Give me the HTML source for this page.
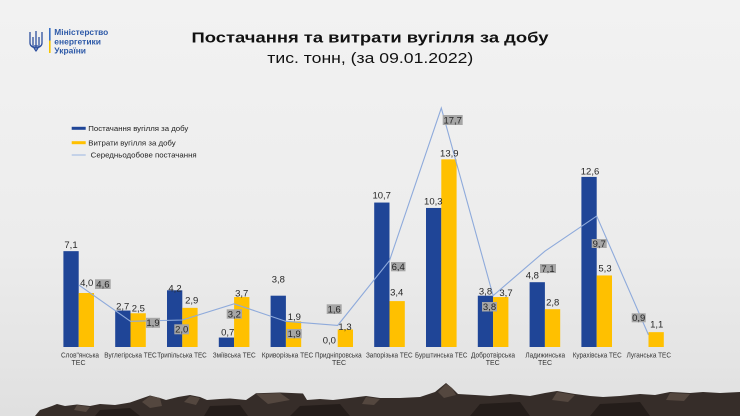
<!DOCTYPE html>
<html><head><meta charset="utf-8">
<style>html,body{margin:0;padding:0;width:740px;height:416px;overflow:hidden;background:#eee}</style>
</head><body>
<svg width="740" height="416" viewBox="0 0 740 416" xmlns="http://www.w3.org/2000/svg" font-family="'Liberation Sans', Arial, sans-serif">
<defs>
<linearGradient id="bg" x1="0" y1="0" x2="0" y2="1">
<stop offset="0" stop-color="#f2f2f2"/><stop offset="0.6" stop-color="#ececec"/><stop offset="1" stop-color="#e0e0e0"/>
</linearGradient>
</defs>
<rect width="740" height="416" fill="url(#bg)"/>

<!-- Logo -->
<g fill="none" stroke="#2d4f9e" stroke-width="1.3" stroke-linejoin="round">
<path d="M36 31 L36 48"/>
<path d="M30 32 L30 43 Q30 47 36 48 Q42 47 42 43 L42 32"/>
<path d="M33 37 L33 45 M39 37 L39 45"/>
<path d="M31 46 L41 46 M34 48 L36 51 L38 48"/>
</g>
<rect x="49" y="28" width="1.6" height="12.5" fill="#3a6fc4"/>
<rect x="49" y="40.5" width="1.6" height="12.5" fill="#f5c400"/>
<g fill="#2e5aa8" font-weight="bold" font-size="8.5">
<text x="54.3" y="35" textLength="54" lengthAdjust="spacingAndGlyphs">Міністерство</text>
<text x="54.3" y="44.3" textLength="46.7" lengthAdjust="spacingAndGlyphs">енергетики</text>
<text x="54.3" y="53.3" textLength="31.7" lengthAdjust="spacingAndGlyphs">України</text>
</g>

<!-- Title -->
<text x="370" y="42.3" text-anchor="middle" font-size="15" font-weight="bold" fill="#111" textLength="357" lengthAdjust="spacingAndGlyphs">Постачання та витрати вугілля за добу</text>
<text x="370.3" y="63" text-anchor="middle" font-size="15" fill="#111" textLength="206" lengthAdjust="spacingAndGlyphs">тис. тонн, (за 09.01.2022)</text>

<!-- Legend -->
<rect x="71.7" y="126.8" width="14" height="3" fill="#1f4597"/>
<text x="88.3" y="130.8" font-size="7.5" fill="#222" textLength="100" lengthAdjust="spacingAndGlyphs">Постачання вугілля за добу</text>
<rect x="71.7" y="141.2" width="14" height="3" fill="#ffc000"/>
<text x="88.3" y="145.3" font-size="7.5" fill="#222" textLength="87.4" lengthAdjust="spacingAndGlyphs">Витрати вугілля за добу</text>
<line x1="71.7" y1="155" x2="85.7" y2="155" stroke="#a9bfe3" stroke-width="1.2"/>
<text x="90.7" y="157.7" font-size="7.5" fill="#222" textLength="106" lengthAdjust="spacingAndGlyphs">Середньодобове постачання</text>

<!-- Blue bars -->
<g fill="#1f4597">
<rect x="63.4" y="251.15" width="15.3" height="95.85"/>
<rect x="115.2" y="310.55" width="15.3" height="36.45"/>
<rect x="167" y="290.3" width="15.3" height="56.7"/>
<rect x="218.8" y="337.55" width="15.3" height="9.45"/>
<rect x="270.6" y="295.7" width="15.3" height="51.3"/>
<rect x="374.2" y="202.55" width="15.3" height="144.45"/>
<rect x="426" y="207.95" width="15.3" height="139.05"/>
<rect x="477.8" y="295.7" width="15.3" height="51.3"/>
<rect x="529.6" y="282.2" width="15.3" height="64.8"/>
<rect x="581.4" y="176.9" width="15.3" height="170.1"/>
</g>
<!-- Yellow bars -->
<g fill="#ffc000">
<rect x="78.7" y="293" width="15.3" height="54"/>
<rect x="130.5" y="313.25" width="15.3" height="33.75"/>
<rect x="182.3" y="307.85" width="15.3" height="39.15"/>
<rect x="234.1" y="297.05" width="15.3" height="49.95"/>
<rect x="285.9" y="321.35" width="15.3" height="25.65"/>
<rect x="337.7" y="329.45" width="15.3" height="17.55"/>
<rect x="389.5" y="301.1" width="15.3" height="45.9"/>
<rect x="441.3" y="159.35" width="15.3" height="187.65"/>
<rect x="493.1" y="297.05" width="15.3" height="49.95"/>
<rect x="544.9" y="309.2" width="15.3" height="37.8"/>
<rect x="596.7" y="275.45" width="15.3" height="71.55"/>
<rect x="648.5" y="332.15" width="15.3" height="14.85"/>
</g>

<!-- Average line -->
<polyline fill="none" stroke="#8eaadb" stroke-width="1.1" points="78.7,284.9 130.5,321.35 182.3,320 234.1,303.8 285.9,321.35 337.7,325.4 389.5,260.6 441.3,108.05 493.1,295.7 544.9,251.15 596.7,216.05 648.5,334.85"/>

<!-- Data labels -->
<g font-size="9.5" fill="#262626" text-anchor="middle">
<text x="71" y="248">7,1</text>
<text x="122.7" y="309.4">2,7</text>
<text x="175" y="291.7">4,2</text>
<text x="227.7" y="335.4">0,7</text>
<text x="278.3" y="282.7">3,8</text>
<text x="329.3" y="343.4">0,0</text>
<text x="381.7" y="198.4">10,7</text>
<text x="433.3" y="204.4">10,3</text>
<text x="485.5" y="294.4">3,8</text>
<text x="532.3" y="278.4">4,8</text>
<text x="590" y="174.4">12,6</text>

<text x="86.7" y="286.1">4,0</text>
<text x="138.3" y="311.7">2,5</text>
<text x="191.7" y="303.4">2,9</text>
<text x="241.7" y="296.7">3,7</text>
<text x="294.3" y="320.1">1,9</text>
<text x="345" y="330.1">1,3</text>
<text x="396.7" y="295.7">3,4</text>
<text x="449.3" y="156.7">13,9</text>
<text x="506" y="296.1">3,7</text>
<text x="552.7" y="305.7">2,8</text>
<text x="605" y="271.7">5,3</text>
<text x="656.7" y="327.7">1,1</text>
</g>

<!-- Average labels (gray boxes) -->
<g fill="#a6a6a6">
<rect x="95" y="279.3" width="15.7" height="9.7"/>
<rect x="146" y="317.8" width="14" height="10"/>
<rect x="174.3" y="324.3" width="14.7" height="10"/>
<rect x="226.7" y="309.3" width="15.3" height="9.4"/>
<rect x="286.7" y="329" width="15" height="9.3"/>
<rect x="326.7" y="304.3" width="15" height="9.7"/>
<rect x="391" y="262" width="14.5" height="9.3"/>
<rect x="442.7" y="115" width="20" height="10"/>
<rect x="482" y="302" width="15" height="9.5"/>
<rect x="540" y="264" width="16" height="9"/>
<rect x="591.7" y="239" width="15" height="9"/>
<rect x="631.7" y="313.3" width="14" height="9"/>
</g>
<g font-size="9.5" fill="#262626" text-anchor="middle">
<text x="102.9" y="287.6">4,6</text>
<text x="153" y="326.2">1,9</text>
<text x="181.7" y="332.7">2,0</text>
<text x="234.3" y="317.4">3,2</text>
<text x="294.2" y="337.1">1,9</text>
<text x="334.2" y="312.6">1,6</text>
<text x="398.2" y="270.1">6,4</text>
<text x="452.7" y="123.4">17,7</text>
<text x="489.5" y="310.2">3,8</text>
<text x="548" y="271.9">7,1</text>
<text x="599.2" y="247">9,7</text>
<text x="638.7" y="321.2">0,9</text>
</g>

<!-- Category labels -->
<g font-size="7" fill="#333" text-anchor="middle">
<text x="80" y="357.3" textLength="38" lengthAdjust="spacingAndGlyphs">Слов"янська</text>
<text x="78.5" y="364.8">ТЕС</text>
<text x="130.5" y="357.3" textLength="52.4" lengthAdjust="spacingAndGlyphs">Вуглегірська ТЕС</text>
<text x="182" y="357.3" textLength="49.4" lengthAdjust="spacingAndGlyphs">Трипільська ТЕС</text>
<text x="234.2" y="357.3" textLength="43" lengthAdjust="spacingAndGlyphs">Зміївська ТЕС</text>
<text x="287.5" y="357.3" textLength="51.6" lengthAdjust="spacingAndGlyphs">Криворізька ТЕС</text>
<text x="338.3" y="357.3" textLength="46.7" lengthAdjust="spacingAndGlyphs">Придніпровська</text>
<text x="339" y="364.8">ТЕС</text>
<text x="389.3" y="357.3" textLength="46.7" lengthAdjust="spacingAndGlyphs">Запорізька ТЕС</text>
<text x="441.2" y="357.3" textLength="52.3" lengthAdjust="spacingAndGlyphs">Бурштинська ТЕС</text>
<text x="493" y="357.3" textLength="44" lengthAdjust="spacingAndGlyphs">Добротвірська</text>
<text x="492.7" y="364.8">ТЕС</text>
<text x="545.2" y="357.3" textLength="39.7" lengthAdjust="spacingAndGlyphs">Ладижинська</text>
<text x="545" y="364.8">ТЕС</text>
<text x="597.2" y="357.3" textLength="49" lengthAdjust="spacingAndGlyphs">Курахівська ТЕС</text>
<text x="648.8" y="357.3" textLength="44.3" lengthAdjust="spacingAndGlyphs">Луганська ТЕС</text>
</g>

<!-- Coal pile -->
<polygon fill="#362d29" points="35,416 40,410 47,407.7 52,406 57,404 65,406 77,404.5 90,406 100,404 115,405 130,402.5 140,399 150,395.5 160,398 166,400 178,397 190,395 200,397 207,400 220,399 230,398.5 246,400 256,393.3 280,392.5 303,393.5 307,400 320,399 333,400 350,398 366,396 380,398 400,398 420,397 435,392 446,383 452,388 458,394 475,395 490,396 510,394 530,396 545,393 557,391 575,394 590,396 603,397 620,396 640,394 655,395 670,392 690,393 703,392 720,393 740,392 740,416"/>
<g fill="#54473f">
<polygon points="150,396 160,398 162,406 150,408 142,402"/>
<polygon points="256,394 280,393 290,400 268,404"/>
<polygon points="446,384 452,388 456,395 444,398 438,392"/>
<polygon points="190,396 200,398 196,405 184,402"/>
<polygon points="557,392 575,395 568,402 552,400"/>
<polygon points="670,393 690,394 684,401 666,400"/>
<polygon points="77,405 90,407 86,412 74,410"/>
<polygon points="366,397 380,399 374,405 362,404"/>
</g>
<g fill="#241d1a">
<polygon points="100,410 130,408 140,416 95,416"/>
<polygon points="300,406 340,404 350,416 290,416"/>
<polygon points="480,404 520,402 530,416 470,416"/>
<polygon points="600,404 640,402 650,416 590,416"/>
<polygon points="210,406 240,405 248,416 204,416"/>
</g>
</svg>
</body></html>
